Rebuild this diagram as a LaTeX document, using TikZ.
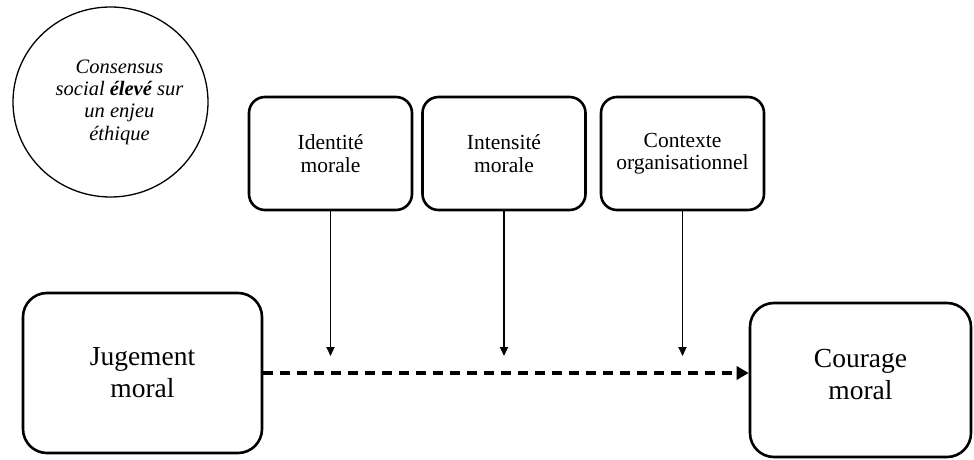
\documentclass[tikz,border=0pt]{standalone}
\usepackage{fontspec}
\setmainfont{Liberation Serif}
\usetikzlibrary{arrows.meta,shapes.geometric}
\begin{document}
\begin{tikzpicture}[x=1pt,y=-1pt,
  modbox/.style={draw, line width=2.6pt, rounded corners=16pt, minimum width=163pt, minimum height=113pt, align=center, font=\fontsize{21.5}{22.5}\selectfont, inner sep=0pt},
  bigbox/.style={draw, line width=2.6pt, rounded corners=24pt, align=center, font=\fontsize{27.5}{32}\selectfont, inner sep=0pt},
  link/.style={line width=1.8pt, -{Triangle[length=9pt,width=8pt]}},
  dlink/.style={line width=4pt, dash pattern=on 10pt off 7pt, -{Triangle[length=12pt,width=13pt]}}]
\useasboundingbox (0,0) rectangle (974,460);

\node[draw, ellipse, line width=1.3pt, minimum width=195pt, minimum height=190pt, inner sep=0pt] (cs) at (110.5,102) {};
\node[align=center, font=\itshape\fontsize{20.5}{22.3}\selectfont, inner sep=0pt] (cst) at ([xshift=9pt]cs.center) {Consensus\\social \textbf{élevé} sur\\un enjeu\\éthique};

\node[modbox] (b1) at (330.5,153.5) {Identité\\morale};
\node[modbox] (b2) at (504,153.5) {Intensité\\morale};
\node[modbox] (b3) at (682.5,153.5) {Contexte\\organisationnel};

\node[bigbox, minimum width=239pt, minimum height=160pt] (jm) at (142.5,373) {Jugement\\moral};
\node[bigbox, minimum width=221pt, minimum height=154pt] (cm) at (860.5,380) {Courage\\moral\\[-20pt]};

\draw[dlink] (jm.east) -- (jm.east -| cm.west);
\draw[link, shorten >=17pt] (b1.south) -- (b1.south |- jm.east);
\draw[link, shorten >=17pt] (b2.south) -- (b2.south |- jm.east);
\draw[link, shorten >=17pt] (b3.south) -- (b3.south |- jm.east);
\end{tikzpicture}
\end{document}
